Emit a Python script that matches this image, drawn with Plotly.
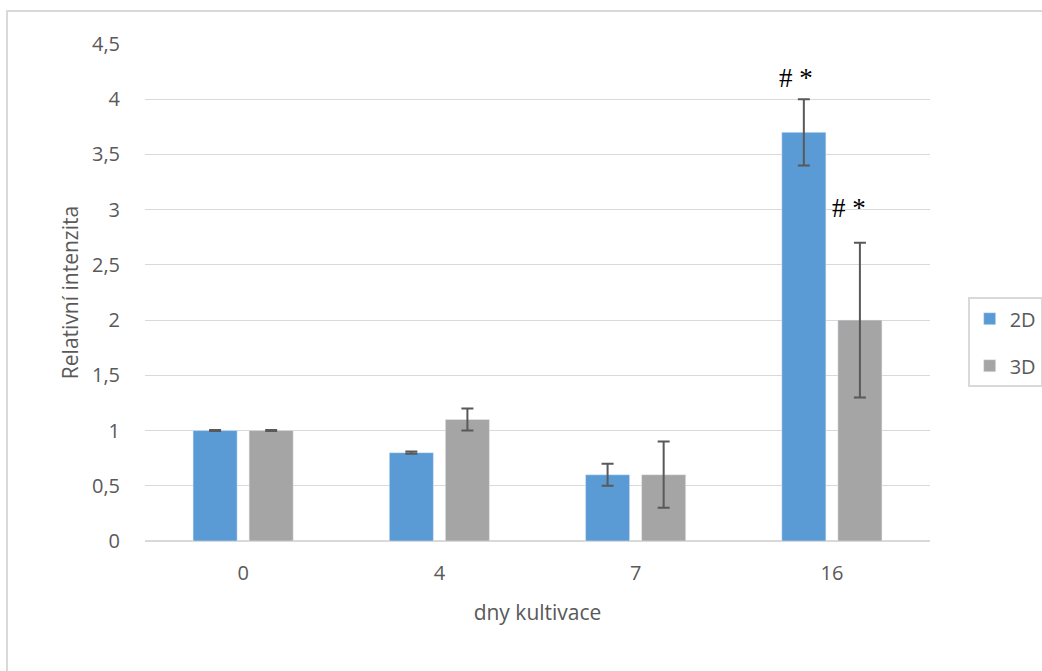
import plotly.graph_objects as go

categories = ["0", "4", "7", "16"]
values_2d = [1.0, 0.8, 0.6, 3.7]
errors_2d = [0.005, 0.01, 0.1, 0.3]
values_3d = [1.0, 1.1, 0.6, 2.0]
errors_3d = [0.005, 0.1, 0.3, 0.7]
y_ticks = [0, 0.5, 1, 1.5, 2, 2.5, 3, 3.5, 4, 4.5]
marks = ["# *", "# *"]

err_style = dict(type="data", visible=True, color="#595959", thickness=2, width=6)

fig = go.Figure()
fig.add_trace(go.Bar(name="2D", x=categories, y=values_2d, marker_color="#5b9bd5",
                     legendgroup="g2d",
                     error_y=dict(array=errors_2d, **err_style)))
fig.add_trace(go.Bar(name="3D", x=categories, y=values_3d, marker_color="#a5a5a5",
                     legendgroup="g3d",
                     error_y=dict(array=errors_3d, **err_style)))

last = len(categories) - 1
font_family = "Open Sans, Liberation Sans, sans-serif"
fig.update_layout(
    width=1042, height=671,
    margin=dict(l=145, r=112, t=44, b=130, autoexpand=False),
    paper_bgcolor="white", plot_bgcolor="white",
    barmode="group", bargap=0.4286, bargroupgap=0.214,
    separators=", ",
    font=dict(family=font_family, color="#595959", size=20),
    showlegend=True,
    legend=dict(x=1.048, y=0.4, xanchor="left", yanchor="middle",
                bordercolor="#d9d9d9", borderwidth=2, bgcolor="white",
                font=dict(size=20, color="#595959"), tracegroupgap=18,
                itemwidth=30),
    xaxis=dict(type="category", range=[-0.5, last + 0.5],
               title=dict(text="dny kultivace", font=dict(size=21), standoff=20),
               showgrid=False, showline=True, linecolor="#d9d9d9", linewidth=1,
               ticks="outside", ticklen=14, tickcolor="rgba(0,0,0,0)",
               tickfont=dict(size=20)),
    yaxis=dict(title=dict(text="Relativní intenzita", font=dict(size=21), standoff=7),
               range=[0, 4.5], tickvals=y_ticks, showgrid=True, gridcolor="#d9d9d9",
               gridwidth=1, zeroline=True, zerolinecolor="#d9d9d9",
               ticks="outside", ticklen=20, tickcolor="rgba(0,0,0,0)",
               tickfont=dict(size=20)),
    annotations=[
        dict(x=last, y=values_2d[last] + errors_2d[last], xref="x", yref="y", text=marks[0],
             showarrow=False, xshift=-36, yshift=21,
             font=dict(family="Liberation Serif, serif", size=27, color="black")),
        dict(x=last, y=values_3d[last] + errors_3d[last], xref="x", yref="y", text=marks[1],
             showarrow=False, xshift=17, yshift=35,
             font=dict(family="Liberation Serif, serif", size=27, color="black")),
    ],
    shapes=[dict(type="rect", xref="paper", yref="paper",
                 x0=-0.1758, x1=1.16, y0=-0.29, y1=1.0664,
                 line=dict(color="#d9d9d9", width=2), fillcolor="rgba(0,0,0,0)",
                 layer="below")],
)

fig.write_html("out.html", config={"displayModeBar": False},
               post_script="document.body.style.margin='0';")
